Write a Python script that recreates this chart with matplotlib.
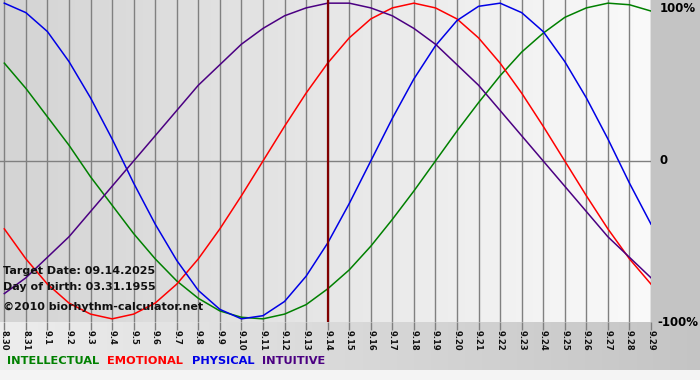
import numpy as np
import matplotlib
matplotlib.use("Agg")
import matplotlib.pyplot as plt

# day labels (x axis)
DAYS = ["8.30", "8.31"] + [f"9.{d}" for d in range(1, 30)]

# biorhythm values, one per day (-1 .. 1)
physical = [1.00, 0.94, 0.82, 0.63, 0.40, 0.14, -0.14, -0.40, -0.63, -0.82, -0.94,
            -1.00, -0.98, -0.89, -0.73, -0.52, -0.27, 0.00, 0.27, 0.52, 0.73,
            0.89, 0.98, 1.00, 0.94, 0.82, 0.63, 0.40, 0.14, -0.14, -0.40]
emotional = [-0.43, -0.62, -0.78, -0.90, -0.97, -1.00, -0.97, -0.90, -0.78, -0.62, -0.43,
             -0.22, 0.00, 0.22, 0.43, 0.62, 0.78, 0.90, 0.97, 1.00, 0.97,
             0.90, 0.78, 0.62, 0.43, 0.22, 0.00, -0.22, -0.43, -0.62, -0.78]
intellectual = [0.62, 0.46, 0.28, 0.10, -0.10, -0.28, -0.46, -0.62, -0.76, -0.87, -0.95,
                -0.99, -1.00, -0.97, -0.91, -0.81, -0.69, -0.54, -0.37, -0.19, 0.00,
                0.19, 0.37, 0.54, 0.69, 0.81, 0.91, 0.97, 1.00, 0.99, 0.95]
intuitive = [-0.84, -0.74, -0.61, -0.48, -0.32, -0.16, 0.00, 0.16, 0.32, 0.48, 0.61,
             0.74, 0.84, 0.92, 0.97, 1.00, 1.00, 0.97, 0.92, 0.84, 0.74,
             0.61, 0.48, 0.32, 0.16, 0.00, -0.16, -0.32, -0.48, -0.61, -0.74]

SERIES = [("INTELLECTUAL", intellectual, "#008000"),
          ("EMOTIONAL", emotional, "#ff0000"),
          ("PHYSICAL", physical, "#0000e6"),
          ("INTUITIVE", intuitive, "#4b0082")]
TARGET_IDX = DAYS.index("9.14")

W, H = 700, 380
fig = plt.figure(figsize=(W / 100, H / 100), dpi=100)
fig.patch.set_facecolor("#c4c4c4")

# background of the whole picture: light band at the bottom
bg = fig.add_axes([0, 0, 1, 1], zorder=-10)
bg.axis("off")
grad = np.linspace(0.93, 0.77, 256).reshape(1, -1)
bg.imshow(np.dstack([grad] * 3), extent=[0, 1, 10 / H, 58 / H], aspect="auto")
bg.axhspan(0, 10 / H, color="#f4f4f4", lw=0)
bg.axhspan(58 / H, 1, color="#c4c4c4", lw=0)
bg.set_xlim(0, 1)
bg.set_ylim(0, 1)

ax = fig.add_axes([0, 1 - 322 / H, 651 / W, 322 / H])
x = np.arange(len(DAYS))
x0 = -0.2
ax.set_xlim(x0, len(DAYS) - 1)
ax.set_ylim(-1.02, 1.02)

# gradient inside the plot area
pg = np.linspace(0.83, 0.98, 256).reshape(1, -1)
ax.imshow(np.dstack([pg] * 3), extent=[x0, len(DAYS) - 1, -1.02, 1.02],
          aspect="auto", zorder=0)

for xi in x:
    ax.axvline(xi, color="#808080", lw=1, zorder=1)
ax.axhline(0, color="#808080", lw=1, zorder=1)

for name, vals, col in SERIES:
    ax.plot(x, vals, color=col, lw=1.1, zorder=3, solid_joinstyle="round")

ax.axvline(TARGET_IDX, color="#800000", lw=1.6, zorder=4)

for s in ax.spines.values():
    s.set_visible(False)
ax.set_yticks([])
ax.set_xticks(x)
ax.set_xticklabels(DAYS, rotation=-90, fontsize=6, fontweight="bold", color="#111111")
ax.tick_params(axis="x", length=6, color="#808080", width=1, pad=0)

# right-hand percentage labels
fig.text(660 / W, 1 - 8 / H, "100%", fontsize=8.5, fontweight="bold", va="center")
fig.text(660 / W, 1 - 161 / H, "0", fontsize=8.5, fontweight="bold", va="center")
fig.text(657 / W, 1 - 322 / H, "-100%", fontsize=8.5, fontweight="bold", va="center")

# info text
fig.text(3 / W, 1 - 271 / H, "Target Date: 09.14.2025", fontsize=8,
         fontweight="bold", va="center", color="#111111")
fig.text(3 / W, 1 - 287 / H, "Day of birth: 03.31.1955", fontsize=8,
         fontweight="bold", va="center", color="#111111")
fig.text(3 / W, 1 - 307 / H, "\u00a92010 biorhythm-calculator.net", fontsize=8,
         fontweight="bold", va="center", color="#111111")

# legend words
legend_x = [7, 107, 192, 262]
for (name, vals, col), lx in zip(SERIES, legend_x):
    fig.text(lx / W, 1 - 361 / H, name, fontsize=8.2, fontweight="bold",
             color=col, va="center")

fig.savefig("out.png", dpi=100, facecolor=fig.get_facecolor())
